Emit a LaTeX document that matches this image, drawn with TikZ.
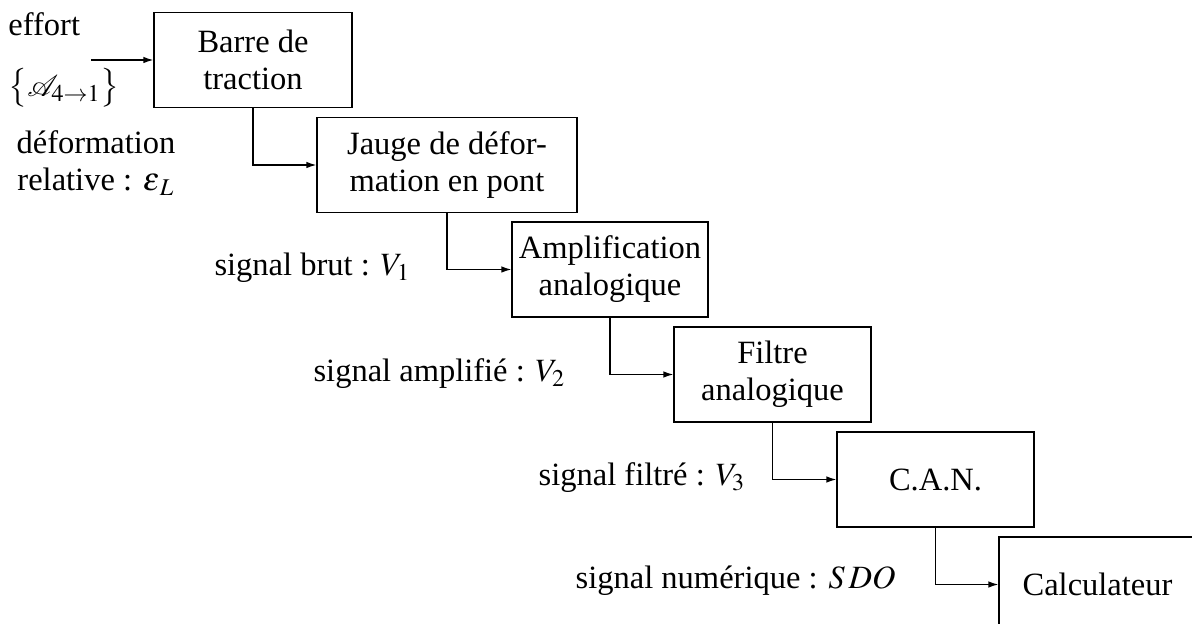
\documentclass[tikz,border=0pt]{standalone}
\usepackage{mathptmx}
\usepackage{mathrsfs}
\usepackage[no-math]{fontspec}
\setmainfont{Liberation Serif}
\usetikzlibrary{arrows.meta}
\tikzset{
  blk/.style={draw, line width=0.5pt, minimum width=#1, minimum height=38pt, align=center, inner sep=0pt, font=\fontsize{13}{14.8}\selectfont},
  lbl/.style={inner sep=0pt, align=center, font=\fontsize{13}{14.8}\selectfont},
  conn/.style={line width=0.5pt, -{Latex[length=4pt,width=2.6pt]}}
}
\begin{document}
\begin{tikzpicture}[x=0.4pt,y=-0.4pt]
\useasboundingbox (0,0) rectangle (1192,624);
\node[blk=79.2pt] (b1) at (253,60) {Barre de\\traction};
\node[blk=104pt] (b2) at (447,165) {Jauge de défor-\\mation en pont};
\node[blk=78.4pt] (b3) at (610,269.5) {Amplification\\analogique};
\node[blk=78.8pt] (b4) at (772.5,374.5) {Filtre\\analogique};
\node[blk=78.8pt] (b5) at (935.5,479.5) {C.A.N.};
\node[blk=78.8pt] (b6) at (1097.5,584.5) {Calculateur};
\coordinate (in) at (91,60);
\draw[conn] (in) -- (b1.west);
\draw[conn] (b1.south) |- (b2.west);
\draw[conn] (b2.south) |- (b3.west);
\draw[conn] (b3.south) |- (b4.west);
\draw[conn] (b4.south) |- (b5.west);
\draw[conn] (b5.south) |- (b6.west);
\node[lbl, anchor=base west] (l1) at (8,36) {effort};
\node[lbl, anchor=west] (l2) at (8,88) {$\bigl\{\mathscr{A}_{4\rightarrow1}\bigr\}$};
\node[lbl] (l3) at (96,163) {déformation\\relative : $\varepsilon_{\,L}$};
\node[lbl, anchor=base east] (l4) at (411,276) {signal brut : $V_1$};
\node[lbl, anchor=base east] (l5) at (566,382) {signal amplifié : $V_2$};
\node[lbl, anchor=base east] (l6) at (746,486) {signal filtré : $V_3$};
\node[lbl, anchor=base east] (l7) at (896,589) {signal numérique : $S\,DO$};
\end{tikzpicture}
\end{document}
